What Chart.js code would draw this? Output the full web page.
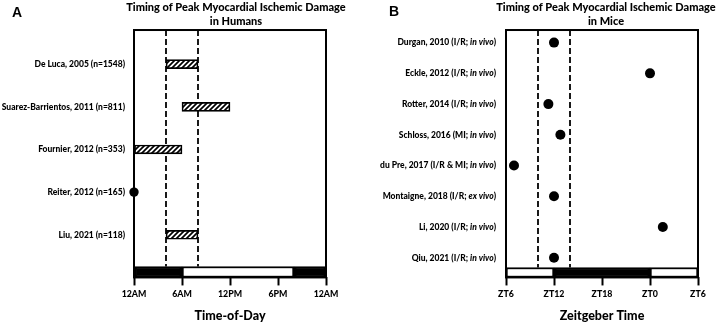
<!DOCTYPE html>
<html>
<head>
<meta charset="utf-8">
<script src="https://cdn.jsdelivr.net/npm/chart.js@4.4.1/dist/chart.umd.min.js"></script>
<style>
  body { margin: 0; background: #fff; }
  #wrap { position: relative; width: 719px; height: 324px; }
  canvas { position: absolute; top: 0; }
  .panel { position: absolute; font: bold 14px "Liberation Sans", Arial, sans-serif; color: #000; }
</style>
</head>
<body>
<div id="wrap">
  <canvas id="humanChart" width="360" height="324" style="left:0"></canvas>
  <canvas id="mouseChart" width="359" height="324" style="left:360px"></canvas>
  <div class="panel" style="left:12px; top:4px">A</div>
  <div class="panel" style="left:389px; top:3px">B</div>
</div>
<script>
// --- Humans (panel A), hours after midnight ---
const humanStudies = ['De Luca, 2005 (n=1548)', 'Suarez-Barrientos, 2011 (n=811)', 'Fournier, 2012 (n=353)', 'Reiter, 2012 (n=165)', 'Liu, 2021 (n=118)'];
const humanStart = [4, 6, 0, null, 4];
const humanEnd = [8, 12, 6, null, 8];
const humanPeak = [null, null, null, 0, null];
const humanDashed = [4, 8];
const humanPhaseEdges = [0, 6, 20, 24];
const humanPhases = ['dark', 'light', 'dark'];
const humanTicks = ['12AM', '6AM', '12PM', '6PM', '12AM'];

// --- Mice (panel B), zeitgeber time on a ZT6..ZT6(+24) axis ---
const mouseStudies = ['Durgan, 2010 (I/R; *in vivo*)', 'Eckle, 2012 (I/R; *in vivo*)', 'Rotter, 2014 (I/R; *in vivo*)', 'Schloss, 2016 (MI; *in vivo*)', 'du Pre, 2017 (I/R & MI; *in vivo*)', 'Montaigne, 2018 (I/R; *ex vivo*)', 'Li, 2020 (I/R; *in vivo*)', 'Qiu, 2021 (I/R; *in vivo*)'];
const mousePeak = [12, 24, 11.3, 12.8, 7, 12, 25.6, 12];
const mouseDashed = [10, 14];
const mousePhaseEdges = [6, 12, 24, 30];
const mousePhases = ['light', 'dark', 'light'];
const mouseTicks = ['ZT6', 'ZT12', 'ZT18', 'ZT0', 'ZT6'];

const FONT = 'Lato, "Open Sans", sans-serif';
const WEIGHT = '900';

function hatchPattern() {
    const c = document.createElement('canvas');
    c.width = 5; c.height = 5;
    const g = c.getContext('2d');
    g.fillStyle = '#fff';
    g.fillRect(0, 0, 5, 5);
    g.strokeStyle = '#000';
    g.lineWidth = 1.7;
    g.beginPath();
    g.moveTo(-1, 6); g.lineTo(6, -1);
    g.moveTo(-1, 1); g.lineTo(1, -1);
    g.moveTo(4, 6); g.lineTo(6, 4);
    g.stroke();
    return g.createPattern(c, 'repeat');
}

// frame around the plot area
const framePlugin = {
    id: 'frame',
    beforeDatasetsDraw(chart) {
        const { ctx, chartArea: a } = chart;
        ctx.save();
        ctx.strokeStyle = '#000';
        ctx.lineWidth = 2;
        ctx.strokeRect(a.left, a.top, a.right - a.left, a.bottom - a.top);
        ctx.restore();
    }
};

// study labels with *italic* parts
const labelPlugin = {
    id: 'studyLabels',
    afterDraw(chart, args, opts) {
        const { ctx, chartArea } = chart;
        const yScale = chart.scales.y;
        ctx.save();
        ctx.fillStyle = '#000';
        ctx.textBaseline = 'middle';
        ctx.textAlign = 'left';
        opts.labels.forEach((label, i) => {
            const parts = label.split('*');
            const fonts = parts.map((p, k) => (k % 2 ? 'italic ' : '') + WEIGHT + ' ' + opts.size + 'px ' + FONT);
            let width = 0;
            parts.forEach((p, k) => { ctx.font = fonts[k]; width += ctx.measureText(p).width; });
            let x = chartArea.left - opts.gap - width;
            const y = yScale.getPixelForValue(i);
            parts.forEach((p, k) => {
                ctx.font = fonts[k];
                ctx.fillText(p, x, y);
                x += ctx.measureText(p).width;
            });
        });
        ctx.restore();
    }
};

// invisible axis used only to reserve a fixed width beside the plot
function spacerAxis(position, width) {
    return {
        type: 'linear',
        position,
        display: true,
        ticks: { display: false },
        grid: { display: false, drawTicks: false },
        border: { display: false },
        afterFit: scale => { scale.width = width; }
    };
}

function makeChart(canvasId, s) {
    const datasets = [];

    if (s.starts) {
        datasets.push({
            type: 'bar',
            data: s.starts.map((v, i) => v == null ? null : { x: [v, s.ends[i]], y: i }).filter(d => d),
            backgroundColor: hatchPattern(),
            borderColor: '#000',
            borderWidth: 1.7,
            borderSkipped: false,
            barThickness: 9,
            grouped: false
        });
    }

    datasets.push({
        type: 'scatter',
        data: s.peaks.map((v, i) => v == null ? null : { x: v, y: i }).filter(d => d),
        backgroundColor: '#000',
        borderWidth: 0,
        pointRadius: s.pointRadius,
        clip: false
    });

    s.dashed.forEach(v => {
        datasets.push({
            type: 'line',
            data: [{ x: v, y: s.yMin }, { x: v, y: s.phaseY - s.phaseHalf }],
            borderColor: '#000',
            borderWidth: 1.8,
            borderDash: [6, 3],
            pointRadius: 0,
            fill: false
        });
    });

    datasets.push({
        type: 'bar',
        data: s.phases.map((p, i) => ({ x: [s.edges[i], s.edges[i + 1]], y: s.phaseY })),
        backgroundColor: s.phases.map(p => p === 'dark' ? '#000' : '#fff'),
        borderColor: '#000',
        borderWidth: 2,
        borderSkipped: false,
        barThickness: s.barThickness,
        grouped: false
    });

    const yLeft = spacerAxis('left', s.axisLeft);
    Object.assign(yLeft, { reverse: true, offset: false, min: s.yMin, max: s.yMax });

    return new Chart(document.getElementById(canvasId), {
        type: 'bar',
        data: { datasets },
        plugins: [framePlugin, labelPlugin],
        options: {
            indexAxis: 'y',
            responsive: false,
            animation: false,
            events: [],
            layout: { padding: { left: s.padLeft, right: 0, top: 0, bottom: 0 } },
            plugins: {
                legend: { display: false },
                tooltip: { enabled: false },
                title: {
                    display: true,
                    text: s.title,
                    color: '#000',
                    font: { family: FONT, size: 11, weight: WEIGHT, lineHeight: 1.31 },
                    padding: { top: 0, bottom: 1.2 }
                },
                studyLabels: { labels: s.labels, size: 8.5, gap: s.gap }
            },
            scales: {
                x: {
                    type: 'linear',
                    min: s.xMin,
                    max: s.xMax,
                    offset: false,
                    afterBuildTicks: scale => {
                        scale.ticks = s.tickLabels.map((t, i) => ({ value: s.xMin + i * 6 }));
                    },
                    ticks: {
                        color: '#000',
                        font: { family: FONT, size: 8.8, weight: WEIGHT, lineHeight: 1.2 },
                        padding: 3,
                        maxRotation: 0,
                        autoSkip: false,
                        callback: (v, i) => s.tickLabels[i]
                    },
                    grid: {
                        drawOnChartArea: false,
                        drawTicks: true,
                        tickLength: 8,
                        tickWidth: 2,
                        color: '#000',
                        offset: false
                    },
                    border: { display: false },
                    title: {
                        display: true,
                        text: s.xTitle,
                        color: '#000',
                        font: { family: FONT, size: 12.5, weight: WEIGHT, lineHeight: 1.2 },
                        padding: { top: 6, bottom: 1 }
                    }
                },
                y: yLeft,
                yRight: spacerAxis('right', s.axisRight)
            }
        }
    });
}

makeChart('humanChart', {
    labels: humanStudies,
    starts: humanStart,
    ends: humanEnd,
    peaks: humanPeak,
    pointRadius: 4.7,
    dashed: humanDashed,
    edges: humanPhaseEdges,
    phases: humanPhases,
    tickLabels: humanTicks,
    xMin: 0, xMax: 24,
    yMin: -0.8, yMax: 5.0,
    phaseY: 4.872, phaseHalf: 0.128,
    barThickness: 11,
    padLeft: 112, axisLeft: 22, axisRight: 34, gap: 9,
    title: ['Timing of Peak Myocardial Ischemic Damage', 'in Humans'],
    xTitle: 'Time-of-Day'
});

makeChart('mouseChart', {
    labels: mouseStudies,
    peaks: mousePeak,
    pointRadius: 5,
    dashed: mouseDashed,
    edges: mousePhaseEdges,
    phases: mousePhases,
    tickLabels: mouseTicks,
    xMin: 6, xMax: 30,
    yMin: -0.41, yMax: 7.64,
    phaseY: 7.48, phaseHalf: 0.16,
    barThickness: 10,
    padLeft: 133, axisLeft: 13, axisRight: 21, gap: 10,
    title: ['Timing of Peak Myocardial Ischemic Damage', 'in Mice'],
    xTitle: 'Zeitgeber Time'
});
</script>
</body>
</html>
